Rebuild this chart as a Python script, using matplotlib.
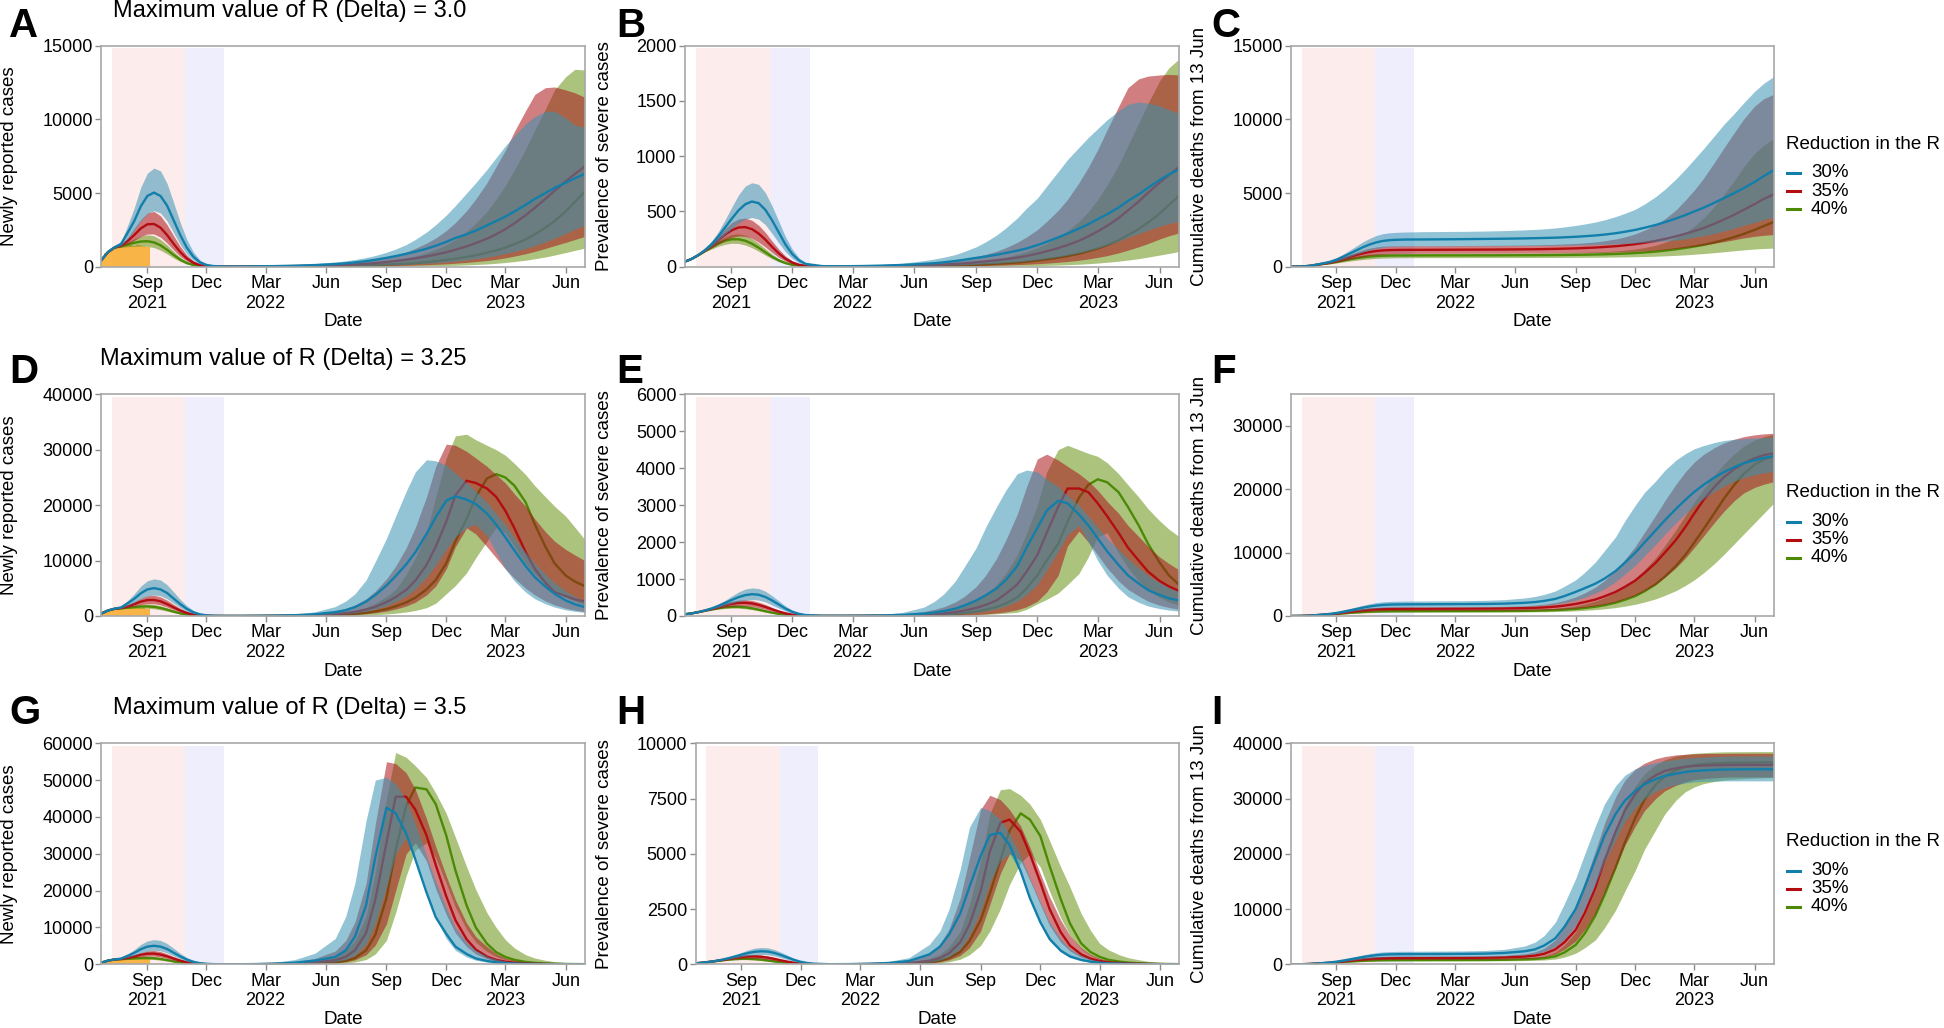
import datetime as dt

import matplotlib
matplotlib.use('Agg')
import matplotlib.pyplot as plt
from matplotlib.lines import Line2D

plt.rcParams['font.family'] = ['Liberation Sans', 'DejaVu Sans']

# ---------------------------------------------------------------- dates
w1_dates = ['2021-06-24', '2021-07-04', '2021-07-14', '2021-07-24', '2021-08-03',
            '2021-08-13', '2021-08-23', '2021-09-02', '2021-09-12', '2021-09-22',
            '2021-10-02', '2021-10-12', '2021-10-22', '2021-11-01', '2021-11-11',
            '2021-11-21', '2021-12-01', '2021-12-11', '2021-12-21', '2022-01-15']
w2_dates = ['2022-02-15', '2022-03-15', '2022-04-15', '2022-05-15', '2022-06-15',
            '2022-07-01', '2022-07-15', '2022-08-01', '2022-08-15', '2022-09-01',
            '2022-09-15', '2022-10-01', '2022-10-15', '2022-11-01', '2022-11-15',
            '2022-12-01', '2022-12-15', '2023-01-01', '2023-01-15', '2023-02-01',
            '2023-02-15', '2023-03-01', '2023-03-15', '2023-04-01', '2023-04-15',
            '2023-05-01', '2023-05-15', '2023-06-01', '2023-06-15', '2023-06-30']

# observed daily cases (weekly bars)
obs_dates = ['2021-06-21', '2021-06-28', '2021-07-05', '2021-07-12', '2021-07-19', '2021-07-26',
             '2021-08-02', '2021-08-09', '2021-08-16', '2021-08-23', '2021-08-30']
obs_cases = [600, 900, 1150, 1300, 1350, 1400, 1450, 1400, 1450, 1400, 1350]

# ------------------------------------------- first wave (same in every row)
# newly reported cases
c1_30_med = [450, 1000, 1320, 1550, 2300, 3100, 4100, 4800, 5030, 4800, 4150, 3150, 2150, 1300, 680, 300, 120, 45, 20, 10]
c1_30_lo = [450, 980, 1290, 1420, 1900, 2450, 3100, 3600, 3800, 3650, 3100, 2300, 1500, 880, 440, 190, 75, 28, 12, 5]
c1_30_hi = [450, 1020, 1350, 1720, 2800, 4000, 5400, 6350, 6700, 6500, 5650, 4350, 3000, 1850, 1000, 450, 180, 70, 28, 15]
c1_35_med = [450, 990, 1300, 1430, 1750, 2150, 2600, 2880, 2900, 2650, 2150, 1550, 1000, 560, 270, 110, 45, 18, 8, 4]
c1_35_lo = [450, 975, 1280, 1370, 1550, 1780, 2050, 2220, 2220, 2000, 1600, 1130, 700, 380, 180, 75, 30, 12, 5, 3]
c1_35_hi = [450, 1005, 1320, 1500, 1980, 2600, 3200, 3650, 3750, 3450, 2850, 2100, 1380, 800, 400, 170, 70, 28, 12, 6]
c1_40_med = [450, 985, 1290, 1380, 1500, 1620, 1710, 1730, 1650, 1450, 1150, 800, 480, 250, 115, 48, 18, 7, 3, 2]
c1_40_lo = [450, 970, 1270, 1320, 1350, 1380, 1400, 1380, 1300, 1120, 870, 590, 350, 180, 80, 33, 13, 5, 2, 1]
c1_40_hi = [450, 1000, 1310, 1440, 1680, 1900, 2080, 2170, 2100, 1850, 1480, 1040, 640, 340, 160, 65, 25, 10, 4, 2]
# prevalence of severe cases
s1_30_med = [45, 70, 105, 150, 205, 275, 355, 435, 510, 565, 590, 575, 515, 420, 310, 200, 115, 58, 25, 5]
s1_30_lo = [45, 70, 103, 142, 185, 235, 290, 345, 395, 430, 445, 430, 380, 300, 215, 135, 75, 36, 16, 3]
s1_30_hi = [45, 70, 108, 160, 228, 318, 425, 540, 650, 730, 760, 745, 670, 550, 410, 270, 160, 80, 35, 8]
s1_35_med = [45, 70, 104, 145, 190, 240, 290, 330, 355, 358, 340, 300, 245, 180, 120, 72, 38, 18, 8, 3]
s1_35_lo = [45, 70, 102, 138, 172, 207, 240, 265, 278, 275, 257, 222, 178, 128, 84, 50, 26, 12, 5, 2]
s1_35_hi = [45, 70, 106, 152, 208, 275, 345, 400, 432, 440, 420, 375, 310, 232, 158, 96, 52, 25, 11, 4]
s1_40_med = [45, 70, 103, 140, 175, 210, 235, 248, 248, 235, 208, 172, 130, 90, 57, 33, 17, 8, 4, 2]
s1_40_lo = [45, 70, 101, 134, 160, 185, 203, 212, 210, 196, 172, 140, 104, 71, 44, 25, 13, 6, 3, 1]
s1_40_hi = [45, 70, 105, 147, 190, 235, 270, 292, 297, 285, 255, 213, 163, 114, 73, 43, 22, 11, 5, 2]
# cumulative deaths
m1_30_med = [0, 6, 25, 70, 150, 240, 340, 490, 690, 900, 1120, 1330, 1510, 1650, 1750, 1800, 1825, 1838, 1845, 1850]
m1_30_lo = [0, 5, 22, 60, 125, 195, 270, 380, 530, 690, 850, 1000, 1130, 1240, 1320, 1365, 1385, 1395, 1400, 1405]
m1_30_hi = [0, 7, 28, 85, 185, 300, 430, 620, 870, 1140, 1420, 1700, 1930, 2120, 2240, 2300, 2330, 2350, 2360, 2380]
m1_35_med = [0, 6, 24, 65, 140, 210, 285, 390, 530, 670, 800, 910, 1000, 1065, 1105, 1125, 1135, 1140, 1143, 1145]
m1_35_lo = [0, 5, 21, 56, 115, 170, 225, 310, 410, 510, 610, 690, 760, 815, 850, 875, 890, 898, 903, 908]
m1_35_hi = [0, 7, 27, 78, 170, 255, 345, 480, 650, 830, 1000, 1150, 1260, 1340, 1390, 1410, 1420, 1425, 1428, 1430]
m1_40_med = [0, 6, 23, 62, 130, 190, 250, 330, 420, 505, 580, 640, 690, 725, 745, 755, 760, 763, 765, 767]
m1_40_lo = [0, 5, 20, 52, 105, 150, 195, 255, 320, 385, 440, 490, 530, 560, 580, 595, 603, 608, 611, 614]
m1_40_hi = [0, 7, 26, 73, 155, 225, 300, 400, 515, 630, 730, 800, 850, 880, 895, 902, 905, 906, 907, 908]

# ---------------------------------------------------- second wave, R = 3.0
a30_med = [25, 40, 70, 110, 180, 230, 290, 380, 470, 600, 720, 870, 1020, 1220, 1420, 1680, 1950, 2200, 2450, 2800, 3100, 3400, 3750, 4200, 4600, 5000, 5350, 5700, 6000, 6300]
a30_lo = [8, 12, 20, 30, 45, 55, 65, 80, 95, 115, 135, 160, 190, 230, 270, 320, 380, 460, 540, 650, 760, 890, 1030, 1230, 1430, 1680, 1930, 2250, 2550, 2800]
a30_hi = [60, 90, 140, 210, 320, 400, 490, 620, 760, 980, 1200, 1500, 1850, 2350, 2850, 3500, 4150, 5000, 5700, 6600, 7400, 8200, 8900, 9700, 10200, 10550, 10550, 10100, 9600, 9450]
a35_med = [15, 25, 40, 60, 95, 120, 150, 195, 245, 320, 390, 480, 570, 700, 820, 980, 1150, 1380, 1600, 1900, 2200, 2550, 2950, 3500, 4000, 4600, 5150, 5800, 6300, 6800]
a35_lo = [5, 8, 12, 18, 26, 31, 37, 45, 54, 66, 78, 93, 110, 135, 160, 195, 235, 290, 345, 420, 500, 600, 720, 880, 1040, 1240, 1430, 1650, 1850, 2050]
a35_hi = [40, 60, 90, 130, 200, 250, 310, 400, 500, 650, 800, 1000, 1250, 1600, 1950, 2450, 3000, 3800, 4600, 5700, 6800, 7900, 9200, 10600, 11700, 12150, 12200, 12000, 11800, 11500]
a40_med = [10, 15, 22, 32, 48, 58, 70, 88, 108, 140, 170, 210, 250, 310, 370, 450, 540, 660, 780, 950, 1110, 1300, 1530, 1850, 2200, 2650, 3100, 3750, 4400, 5100]
a40_lo = [2, 3, 5, 7, 10, 12, 14, 17, 20, 25, 30, 36, 43, 53, 63, 78, 95, 120, 148, 185, 230, 285, 350, 440, 540, 660, 790, 960, 1110, 1260]
a40_hi = [25, 40, 55, 80, 120, 150, 180, 230, 290, 380, 470, 590, 730, 950, 1170, 1500, 1850, 2400, 2950, 3750, 4600, 5500, 6600, 8000, 9300, 10700, 12000, 12900, 13400, 13350]

b30_med = [4, 6, 10, 16, 26, 32, 40, 52, 64, 80, 92, 108, 124, 145, 165, 195, 225, 265, 300, 345, 385, 430, 475, 535, 595, 655, 715, 785, 835, 880]
b30_lo = [1, 2, 3, 5, 8, 10, 12, 15, 18, 22, 26, 31, 37, 45, 53, 63, 75, 90, 105, 125, 145, 168, 195, 230, 265, 300, 330, 365, 390, 410]
b30_hi = [8, 12, 20, 32, 55, 70, 86, 110, 140, 180, 225, 285, 350, 440, 530, 620, 730, 860, 970, 1080, 1170, 1250, 1330, 1410, 1470, 1490, 1480, 1455, 1420, 1390]
b35_med = [2, 3, 5, 8, 13, 16, 20, 25, 31, 40, 48, 58, 68, 82, 97, 118, 140, 168, 196, 235, 275, 320, 370, 440, 510, 590, 670, 760, 830, 900]
b35_lo = [1, 1, 2, 2, 3, 4, 5, 6, 7, 9, 11, 13, 15, 19, 22, 27, 32, 40, 47, 58, 70, 84, 100, 125, 150, 180, 210, 250, 280, 305]
b35_hi = [5, 8, 12, 18, 30, 37, 45, 57, 70, 90, 112, 140, 172, 220, 270, 335, 410, 510, 610, 760, 900, 1060, 1240, 1450, 1620, 1700, 1725, 1735, 1740, 1735]
b40_med = [1, 2, 3, 4, 6, 7, 9, 11, 14, 17, 21, 26, 31, 38, 45, 56, 67, 82, 97, 118, 140, 165, 195, 240, 285, 340, 400, 480, 560, 640]
b40_lo = [0, 0, 1, 1, 1, 1, 2, 2, 3, 3, 4, 5, 6, 7, 8, 10, 12, 15, 18, 22, 27, 33, 40, 50, 60, 73, 87, 105, 120, 138]
b40_hi = [3, 5, 7, 10, 16, 19, 23, 29, 36, 46, 57, 71, 87, 112, 137, 172, 210, 268, 325, 410, 500, 610, 740, 920, 1100, 1300, 1480, 1680, 1800, 1880]

k30_med = [1860, 1870, 1885, 1900, 1920, 1935, 1950, 1970, 1995, 2030, 2070, 2120, 2180, 2270, 2370, 2500, 2640, 2830, 3020, 3270, 3500, 3750, 4000, 4350, 4650, 5000, 5320, 5750, 6150, 6550]
k30_lo = [1410, 1415, 1420, 1425, 1432, 1437, 1443, 1450, 1460, 1472, 1485, 1500, 1520, 1545, 1575, 1610, 1645, 1690, 1740, 1810, 1890, 1990, 2100, 2250, 2420, 2600, 2800, 3000, 3200, 3350]
k30_hi = [2390, 2400, 2420, 2450, 2500, 2530, 2570, 2630, 2700, 2800, 2900, 3030, 3180, 3400, 3620, 3900, 4250, 4750, 5250, 5950, 6600, 7300, 8000, 8900, 9650, 10400, 11100, 11900, 12450, 12900]
k35_med = [1150, 1155, 1160, 1168, 1178, 1185, 1195, 1210, 1225, 1245, 1270, 1300, 1340, 1390, 1450, 1530, 1620, 1750, 1880, 2060, 2230, 2420, 2620, 2920, 3200, 3530, 3850, 4250, 4600, 4900]
k35_lo = [910, 912, 915, 918, 922, 925, 928, 933, 938, 945, 953, 963, 975, 992, 1012, 1040, 1072, 1120, 1170, 1240, 1310, 1390, 1470, 1590, 1700, 1830, 1950, 2060, 2130, 2180]
k35_hi = [1435, 1440, 1450, 1460, 1475, 1485, 1500, 1520, 1545, 1580, 1620, 1680, 1760, 1880, 2020, 2230, 2480, 2850, 3250, 3850, 4500, 5200, 6000, 7100, 8050, 9100, 10000, 10900, 11400, 11700]
k40_med = [768, 770, 772, 775, 779, 782, 786, 791, 797, 805, 815, 828, 843, 865, 890, 925, 965, 1025, 1090, 1180, 1270, 1370, 1480, 1650, 1810, 2010, 2220, 2500, 2760, 3030]
k40_lo = [615, 616, 617, 618, 620, 621, 623, 625, 628, 631, 635, 640, 646, 654, 663, 676, 690, 712, 735, 768, 803, 845, 890, 955, 1015, 1080, 1140, 1200, 1235, 1260]
k40_hi = [910, 912, 915, 920, 926, 930, 936, 944, 953, 966, 982, 1003, 1030, 1070, 1120, 1200, 1300, 1460, 1650, 1950, 2300, 2750, 3300, 4100, 4900, 5850, 6750, 7700, 8250, 8700]

# --------------------------------------------------- second wave, R = 3.25
d30_med = [30, 70, 150, 320, 700, 1050, 1600, 2600, 3800, 5500, 7200, 9300, 11500, 14800, 17800, 20800, 21600, 21000, 20200, 18500, 16500, 14200, 11800, 9000, 7000, 5300, 4000, 2800, 2100, 1600]
d30_lo = [10, 25, 55, 120, 260, 400, 560, 860, 1250, 1850, 2600, 3600, 4900, 7000, 9200, 12000, 14300, 16000, 16500, 14500, 11500, 8500, 6300, 4300, 3100, 2200, 1600, 1100, 850, 650]
d30_hi = [60, 140, 320, 750, 1700, 2700, 4000, 6500, 9800, 14000, 18000, 22500, 26000, 28200, 28000, 27200, 25800, 24000, 22500, 20500, 18500, 16500, 14000, 11500, 9500, 7500, 6000, 4500, 3500, 2800]
d35_med = [15, 35, 75, 160, 350, 520, 750, 1150, 1650, 2500, 3400, 4700, 6400, 9200, 12500, 17000, 21800, 24400, 24000, 23000, 21500, 19000, 15800, 11500, 8500, 6000, 4300, 3600, 3000, 2600]
d35_lo = [5, 12, 25, 55, 120, 180, 260, 400, 580, 880, 1250, 1800, 2500, 3800, 5400, 8500, 12500, 15900, 14800, 12500, 10500, 8500, 6800, 5000, 3800, 2700, 2000, 1400, 1050, 800]
d35_hi = [35, 80, 180, 400, 900, 1400, 2000, 3100, 4500, 6700, 9000, 12300, 16000, 21500, 27000, 31000, 30800, 29700, 28500, 27000, 25500, 24000, 22000, 19800, 17500, 15200, 13500, 12000, 11000, 10000]
d40_med = [8, 18, 38, 80, 175, 260, 380, 580, 830, 1250, 1750, 2450, 3300, 4800, 6500, 9500, 13500, 17500, 21500, 24800, 25600, 25000, 23500, 20500, 16500, 12500, 9500, 7300, 6200, 5400]
d40_lo = [3, 6, 12, 25, 55, 80, 110, 170, 240, 360, 500, 720, 1000, 1500, 2300, 4000, 5500, 7800, 10500, 13500, 16000, 15000, 12500, 9500, 7500, 5700, 4500, 3400, 2700, 2100]
d40_hi = [18, 40, 90, 200, 450, 700, 1000, 1550, 2300, 3500, 4800, 7500, 10500, 15000, 21500, 28500, 32500, 32800, 31800, 30800, 30000, 29000, 27500, 25500, 23500, 21500, 19800, 18000, 16000, 13800]

e30_med = [5, 8, 15, 30, 65, 95, 135, 200, 290, 420, 560, 740, 970, 1350, 1850, 2380, 2850, 3120, 3050, 2750, 2450, 2100, 1750, 1380, 1100, 880, 700, 570, 480, 420]
e30_lo = [1, 2, 4, 8, 15, 22, 30, 45, 65, 95, 135, 190, 270, 400, 580, 850, 1250, 1750, 2200, 2450, 2000, 1500, 1100, 750, 520, 370, 270, 200, 160, 130]
e30_hi = [12, 22, 45, 100, 240, 400, 600, 950, 1350, 1850, 2400, 2950, 3400, 3850, 3950, 3900, 3700, 3500, 3250, 3000, 2700, 2400, 2100, 1800, 1550, 1300, 1100, 900, 770, 650]
e35_med = [3, 5, 9, 18, 35, 50, 70, 105, 150, 220, 300, 420, 600, 850, 1200, 1650, 2250, 2950, 3450, 3450, 3350, 3050, 2700, 2250, 1850, 1500, 1200, 950, 800, 680]
e35_lo = [1, 1, 2, 4, 7, 10, 14, 20, 28, 40, 56, 80, 110, 170, 250, 400, 650, 1100, 1900, 2300, 2000, 1650, 1300, 950, 720, 540, 400, 290, 230, 180]
e35_hi = [7, 13, 27, 55, 120, 180, 250, 380, 540, 800, 1100, 1550, 2050, 2750, 3500, 4250, 4380, 4220, 4050, 3850, 3650, 3400, 3100, 2780, 2450, 2150, 1880, 1600, 1420, 1250]
e40_med = [2, 3, 5, 9, 18, 26, 36, 55, 80, 120, 170, 240, 340, 500, 750, 1100, 1500, 1950, 2550, 3200, 3550, 3700, 3620, 3350, 2950, 2450, 1950, 1450, 1100, 850]
e40_lo = [0, 1, 1, 2, 4, 6, 9, 14, 20, 30, 42, 58, 75, 100, 180, 330, 450, 620, 850, 1150, 1600, 2150, 2250, 1700, 1300, 950, 700, 500, 380, 290]
e40_hi = [4, 8, 15, 30, 65, 95, 135, 200, 290, 430, 600, 850, 1150, 1650, 2250, 3000, 3900, 4500, 4620, 4500, 4400, 4320, 4150, 3850, 3550, 3220, 2900, 2580, 2350, 2150]

f30_med = [1870, 1880, 1900, 1950, 2080, 2200, 2380, 2700, 3150, 3800, 4400, 5100, 5900, 7100, 8400, 10000, 11600, 13500, 15100, 16900, 18300, 19600, 20700, 21900, 22700, 23500, 24100, 24600, 24950, 25250]
f30_lo = [1420, 1425, 1435, 1460, 1530, 1600, 1700, 1880, 2100, 2500, 2950, 3600, 4300, 5400, 6600, 8000, 9500, 11300, 12900, 14700, 16100, 17400, 18500, 19700, 20500, 21300, 21800, 22300, 22600, 22800]
f30_hi = [2400, 2420, 2470, 2580, 2850, 3080, 3400, 3950, 4700, 5700, 6900, 8500, 10300, 12500, 15000, 17500, 19500, 21300, 23000, 24600, 25600, 26400, 26900, 27400, 27700, 27900, 28000, 28100, 28150, 28200]
f35_med = [1160, 1165, 1175, 1195, 1240, 1290, 1360, 1480, 1640, 1900, 2200, 2600, 3100, 3800, 4600, 5600, 6800, 8400, 10000, 12000, 14000, 16200, 18300, 20400, 21900, 23200, 24100, 24900, 25400, 25700]
f35_lo = [905, 908, 913, 922, 945, 970, 1000, 1060, 1130, 1250, 1400, 1600, 1850, 2250, 2700, 3300, 4000, 5000, 6100, 7600, 9100, 10800, 12600, 14800, 16500, 18200, 19400, 20300, 20800, 21200]
f35_hi = [1440, 1450, 1470, 1510, 1620, 1720, 1870, 2120, 2450, 3000, 3650, 4550, 5600, 7200, 8900, 11000, 13200, 15900, 18200, 20800, 22700, 24300, 25500, 26600, 27300, 27900, 28300, 28600, 28750, 28850]
f40_med = [775, 778, 783, 792, 815, 840, 870, 930, 1000, 1120, 1260, 1460, 1700, 2100, 2550, 3150, 3900, 5000, 6200, 7900, 9600, 11600, 13700, 16300, 18500, 20700, 22400, 23900, 24700, 25200]
f40_lo = [616, 618, 621, 627, 640, 655, 672, 705, 745, 810, 890, 1000, 1130, 1330, 1550, 1850, 2200, 2700, 3250, 4000, 4800, 5700, 6800, 8300, 9700, 11400, 12900, 14700, 16200, 17800]
f40_hi = [912, 915, 922, 935, 975, 1020, 1080, 1200, 1350, 1600, 1900, 2350, 2900, 3700, 4650, 5900, 7300, 9200, 11100, 13600, 15800, 18000, 20000, 22300, 24000, 25600, 26800, 27800, 28300, 28700]

# ---------------------------------------------------- second wave, R = 3.5
g30_med = [60, 180, 450, 1000, 2000, 3800, 7500, 16000, 29000, 42500, 41000, 35500, 28500, 19500, 12800, 8300, 4800, 2800, 1600, 900, 550, 330, 200, 120, 80, 50, 30, 20, 12, 8]
g30_lo = [20, 60, 150, 350, 750, 1300, 2400, 5500, 11000, 21000, 30000, 34500, 29000, 20000, 12500, 7000, 3800, 2000, 1100, 600, 350, 200, 120, 70, 45, 28, 18, 12, 8, 5]
g30_hi = [200, 550, 1300, 3000, 7000, 13000, 22000, 39000, 50000, 50800, 49000, 44500, 38000, 29500, 22500, 15500, 10000, 6000, 3800, 2200, 1400, 850, 520, 320, 200, 130, 80, 50, 35, 25]
g35_med = [30, 90, 230, 520, 1100, 2000, 3800, 8500, 17500, 33000, 45500, 45500, 42000, 35000, 27000, 18500, 12000, 6800, 4000, 2100, 1200, 700, 420, 240, 150, 90, 55, 35, 22, 15]
g35_lo = [10, 30, 80, 180, 380, 650, 1200, 2600, 5200, 11000, 20000, 30000, 33000, 28000, 20500, 13500, 8500, 4800, 2800, 1500, 850, 500, 300, 170, 105, 65, 40, 25, 16, 10]
g35_hi = [100, 280, 700, 1600, 3600, 6500, 11500, 22000, 38000, 55000, 54500, 52000, 47500, 39500, 32000, 24000, 17500, 11200, 7500, 4800, 2900, 1700, 1000, 600, 370, 230, 140, 90, 60, 40]
g40_med = [15, 45, 110, 250, 550, 950, 1700, 3800, 8000, 18000, 31000, 43000, 48000, 47500, 43500, 35000, 25500, 16000, 10000, 5600, 3300, 2000, 1200, 650, 400, 240, 150, 90, 60, 40]
g40_lo = [5, 15, 40, 90, 200, 350, 620, 1300, 2800, 6500, 14000, 24000, 31000, 33000, 29000, 22000, 15500, 9500, 6000, 3500, 2100, 1300, 800, 450, 280, 170, 110, 70, 45, 30]
g40_hi = [60, 170, 420, 950, 2100, 3700, 6500, 13000, 25000, 45000, 57500, 56200, 53900, 50700, 46500, 41000, 34500, 26500, 20300, 14000, 10000, 6700, 4400, 2600, 1700, 1100, 700, 450, 300, 200]

h30_med = [10, 25, 60, 150, 450, 800, 1350, 2300, 3500, 4900, 5850, 5950, 5400, 4200, 3000, 1900, 1150, 620, 360, 200, 120, 70, 45, 28, 18, 12, 8, 5, 3, 2]
h30_lo = [3, 8, 18, 40, 100, 190, 350, 700, 1300, 2400, 3700, 4700, 5000, 4200, 3000, 1800, 1050, 550, 300, 160, 95, 55, 33, 20, 13, 8, 5, 3, 2, 1]
h30_hi = [25, 60, 140, 300, 900, 1500, 2500, 4300, 6200, 7100, 6950, 6550, 5900, 4900, 3900, 2800, 1900, 1150, 700, 400, 240, 140, 85, 50, 32, 20, 13, 8, 5, 3]
h35_med = [5, 12, 28, 60, 150, 280, 500, 1000, 1800, 3300, 5100, 6400, 6550, 6000, 5000, 3700, 2500, 1450, 850, 450, 260, 150, 90, 55, 35, 22, 14, 9, 6, 4]
h35_lo = [2, 5, 12, 25, 60, 110, 200, 400, 750, 1500, 2700, 4100, 5000, 4700, 3800, 2700, 1750, 1000, 600, 320, 190, 110, 65, 40, 25, 16, 10, 6, 4, 3]
h35_hi = [15, 40, 90, 200, 500, 900, 1600, 3000, 4800, 7000, 7650, 7450, 7000, 6250, 5300, 4100, 3050, 2000, 1300, 750, 450, 270, 160, 95, 60, 38, 24, 15, 10, 6]
h40_med = [3, 7, 16, 35, 85, 160, 280, 560, 1050, 2000, 3200, 4700, 6050, 6830, 6550, 5800, 4450, 2950, 1850, 950, 560, 340, 200, 120, 75, 45, 28, 18, 12, 8]
h40_lo = [1, 3, 7, 15, 35, 65, 115, 230, 430, 850, 1500, 2500, 3600, 4600, 5000, 4400, 3300, 2100, 1300, 700, 400, 230, 140, 80, 50, 30, 20, 12, 8, 5]
h40_hi = [8, 20, 50, 110, 260, 450, 800, 1500, 2700, 4700, 6800, 7900, 7950, 7650, 7250, 6550, 5600, 4400, 3500, 2300, 1550, 950, 650, 420, 290, 200, 130, 80, 50, 30]

i30_med = [1870, 1890, 1930, 2050, 2350, 2700, 3400, 4700, 6800, 10000, 14000, 19000, 23300, 27200, 29600, 31400, 32600, 33500, 34100, 34500, 34800, 35000, 35100, 35200, 35250, 35280, 35300, 35300, 35300, 35300]
i30_lo = [1420, 1430, 1450, 1520, 1700, 1900, 2300, 3200, 4600, 7000, 10200, 14500, 18500, 22500, 25800, 28300, 30000, 31300, 32000, 32500, 32800, 33000, 33100, 33150, 33200, 33200, 33200, 33200, 33200, 33200]
i30_hi = [2400, 2430, 2500, 2700, 3300, 4000, 5200, 7600, 11000, 15500, 20000, 25000, 29000, 32300, 34200, 35400, 36000, 36500, 36800, 37100, 37300, 37400, 37500, 37600, 37650, 37700, 37700, 37700, 37700, 37700]
i35_med = [1160, 1170, 1190, 1250, 1400, 1580, 1900, 2700, 4000, 6200, 9300, 13800, 18800, 24000, 27800, 30800, 32800, 34200, 35000, 35500, 35750, 35900, 35980, 36030, 36060, 36080, 36090, 36100, 36100, 36100]
i35_lo = [905, 910, 920, 960, 1050, 1150, 1350, 1850, 2700, 4200, 6300, 9300, 13000, 17500, 21500, 25000, 27800, 30000, 31400, 32400, 33000, 33400, 33600, 33750, 33850, 33900, 33900, 33900, 33900, 33900]
i35_hi = [1440, 1455, 1490, 1600, 1900, 2250, 2900, 4400, 6800, 10500, 15000, 20500, 25500, 30300, 33300, 35300, 36400, 37200, 37600, 37900, 38000, 38100, 38150, 38170, 38180, 38190, 38200, 38200, 38200, 38200]
i40_med = [775, 780, 790, 820, 900, 980, 1100, 1450, 2150, 3500, 5600, 8800, 12500, 17500, 22000, 26500, 29800, 32500, 34000, 35100, 35700, 36050, 36250, 36380, 36450, 36500, 36520, 36540, 36550, 36550]
i40_lo = [616, 618, 622, 635, 670, 710, 780, 950, 1300, 2000, 3000, 4400, 6600, 9800, 13200, 17000, 20800, 24300, 27200, 29700, 31200, 32100, 32700, 33100, 33350, 33500, 33600, 33700, 33750, 33800]
i40_hi = [912, 918, 930, 980, 1100, 1250, 1500, 2200, 3500, 5800, 9000, 13500, 18500, 24500, 28800, 32300, 34500, 36100, 37000, 37700, 38000, 38200, 38300, 38400, 38450, 38470, 38480, 38500, 38500, 38500]

# axis ticks and text
tick_dates = ['2021-09-01', '2021-12-01', '2022-03-01', '2022-06-01',
              '2022-09-01', '2022-12-01', '2023-03-01', '2023-06-01']
tick_labels = ['Sep\n2021', 'Dec', 'Mar\n2022', 'Jun', 'Sep', 'Dec', 'Mar\n2023', 'Jun']
row_titles = ['Maximum value of R (Delta) = 3.0',
              'Maximum value of R (Delta) = 3.25',
              'Maximum value of R (Delta) = 3.5']
ylabels = ['Newly reported cases', 'Prevalence of severe cases', 'Cumulative deaths from 13 Jun']
scenarios = ['30%', '35%', '40%']


def d(s):
    return dt.datetime.strptime(s, '%Y-%m-%d')


dates = [d(s) for s in w1_dates + w2_dates]
obs_x = [d(s) for s in obs_dates]

wave1 = [
    {'30%': (c1_30_med, c1_30_lo, c1_30_hi), '35%': (c1_35_med, c1_35_lo, c1_35_hi), '40%': (c1_40_med, c1_40_lo, c1_40_hi)},
    {'30%': (s1_30_med, s1_30_lo, s1_30_hi), '35%': (s1_35_med, s1_35_lo, s1_35_hi), '40%': (s1_40_med, s1_40_lo, s1_40_hi)},
    {'30%': (m1_30_med, m1_30_lo, m1_30_hi), '35%': (m1_35_med, m1_35_lo, m1_35_hi), '40%': (m1_40_med, m1_40_lo, m1_40_hi)},
]

# (letter, row, col, wave-2 series, ymax, yticks)
panels = [
    ('A', 0, 0, {'30%': (a30_med, a30_lo, a30_hi), '35%': (a35_med, a35_lo, a35_hi), '40%': (a40_med, a40_lo, a40_hi)},
     15000, [0, 5000, 10000, 15000]),
    ('B', 0, 1, {'30%': (b30_med, b30_lo, b30_hi), '35%': (b35_med, b35_lo, b35_hi), '40%': (b40_med, b40_lo, b40_hi)},
     2000, [0, 500, 1000, 1500, 2000]),
    ('C', 0, 2, {'30%': (k30_med, k30_lo, k30_hi), '35%': (k35_med, k35_lo, k35_hi), '40%': (k40_med, k40_lo, k40_hi)},
     15000, [0, 5000, 10000, 15000]),
    ('D', 1, 0, {'30%': (d30_med, d30_lo, d30_hi), '35%': (d35_med, d35_lo, d35_hi), '40%': (d40_med, d40_lo, d40_hi)},
     40000, [0, 10000, 20000, 30000, 40000]),
    ('E', 1, 1, {'30%': (e30_med, e30_lo, e30_hi), '35%': (e35_med, e35_lo, e35_hi), '40%': (e40_med, e40_lo, e40_hi)},
     6000, [0, 1000, 2000, 3000, 4000, 5000, 6000]),
    ('F', 1, 2, {'30%': (f30_med, f30_lo, f30_hi), '35%': (f35_med, f35_lo, f35_hi), '40%': (f40_med, f40_lo, f40_hi)},
     35000, [0, 10000, 20000, 30000]),
    ('G', 2, 0, {'30%': (g30_med, g30_lo, g30_hi), '35%': (g35_med, g35_lo, g35_hi), '40%': (g40_med, g40_lo, g40_hi)},
     60000, [0, 10000, 20000, 30000, 40000, 50000, 60000]),
    ('H', 2, 1, {'30%': (h30_med, h30_lo, h30_hi), '35%': (h35_med, h35_lo, h35_hi), '40%': (h40_med, h40_lo, h40_hi)},
     10000, [0, 2500, 5000, 7500, 10000]),
    ('I', 2, 2, {'30%': (i30_med, i30_lo, i30_hi), '35%': (i35_med, i35_lo, i35_hi), '40%': (i40_med, i40_lo, i40_hi)},
     40000, [0, 10000, 20000, 30000, 40000]),
]

# ---------------------------------------------------------------- style
LINE = {'30%': '#127fab', '35%': '#b30d12', '40%': '#4c8a06'}
FILL = {'30%': '#3a94b5', '35%': '#aa1419', '40%': '#689315'}

W, H = 1944, 1028
col_x = [(101.4, 584.8), (684.8, 1179.0), (1291.1, 1773.6)]
row_y = [(45.7, 266.7), (394.3, 616.0), (743.3, 964.3)]
letter_x = [9, 616, 1211]
letter_y = [26, 372, 713]
ylabel_x = [9.5, 604.5, 1199.5]

fig = plt.figure(figsize=(W / 100, H / 100), dpi=100)


def fx(x):
    return x / W


def fy(y):
    return 1 - y / H


for letter, r, c, wave2, ymax, yticks in panels:
    x0, x1 = col_x[c]
    if letter == 'H':
        x0 = 695.5
    y0, y1 = row_y[r]
    ax = fig.add_axes([fx(x0), fy(y1), (x1 - x0) / W, (y1 - y0) / H])

    ax.axvspan(d('2021-07-10'), d('2021-10-30'), ymax=0.99, color='#fdecec', lw=0, zorder=0)
    ax.axvspan(d('2021-10-30'), d('2021-12-28'), ymax=0.99, color='#efeefd', lw=0, zorder=0)
    if c == 0:
        ax.bar(obs_x, obs_cases, width=7, align='edge', color='#f9ab2a', alpha=0.85, lw=0, zorder=1)

    for key in ['40%', '35%', '30%']:
        med = wave1[c][key][0] + wave2[key][0]
        lo = wave1[c][key][1] + wave2[key][1]
        hi = wave1[c][key][2] + wave2[key][2]
        ax.fill_between(dates, lo, hi, color=FILL[key], alpha=0.55, lw=0, zorder=2)
        ax.plot(dates, med, color=LINE[key], lw=1.7, zorder=2)

    ax.set_xlim(d('2021-06-24'), d('2023-06-30'))
    ax.set_ylim(0, ymax)
    ax.set_yticks(yticks)
    ax.set_yticklabels([str(v) for v in yticks])
    ax.set_xticks([d(s) for s in tick_dates])
    ax.set_xticklabels(tick_labels)
    for sp in ax.spines.values():
        sp.set_color('#a8a8a8')
        sp.set_linewidth(1.2)
    ax.tick_params(length=4, width=1, color='#8c8c8c', labelsize=13, pad=2)

    fig.text(fx((x0 + x1) / 2), fy(y1 + 55), 'Date', ha='center', va='center', fontsize=13.5)
    fig.text(fx(ylabel_x[c]), fy((y0 + y1) / 2), ylabels[c], rotation=90,
             ha='center', va='center', fontsize=13.5)
    fig.text(fx(letter_x[c]), fy(letter_y[r]), letter, ha='left', va='center',
             fontsize=29, fontweight='bold')

    if c == 0:
        fig.text(fx(466), fy(y0 - 35), row_titles[r], ha='right', va='center', fontsize=17)

    if c == 2:
        ty = y0 + 98.5
        fig.text(fx(1786), fy(ty), 'Reduction in the R', ha='left', va='center', fontsize=13.5)
        for k, key in enumerate(scenarios):
            ey = ty + 28.7 + 18.2 * k
            fig.add_artist(Line2D([fx(1787), fx(1800)], [fy(ey), fy(ey)], color=LINE[key], lw=2.2))
            fig.text(fx(1811), fy(ey), key, ha='left', va='center', fontsize=13.5)

fig.savefig('out.png', dpi=100)
